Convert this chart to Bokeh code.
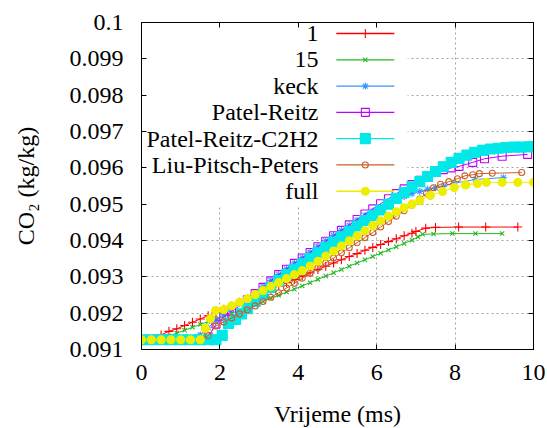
from bokeh.plotting import figure
from bokeh.models import LinearAxis, FixedTicker, Range1d, BoxAnnotation
from bokeh.core.properties import value
from bokeh.embed import file_html
from bokeh.resources import INLINE

# ---------------- data ----------------
x_ticks = [0, 2, 4, 6, 8, 10]
x_tick_labels = ["0", "2", "4", "6", "8", "10"]
y_ticks = [0.091, 0.092, 0.093, 0.094, 0.095, 0.096, 0.097, 0.098, 0.099, 0.1]
y_tick_labels = ["0.091", "0.092", "0.093", "0.094", "0.095", "0.096", "0.097", "0.098", "0.099", "0.1"]

series_names = ["1", "15", "keck", "Patel-Reitz", "Patel-Reitz-C2H2", "Liu-Pitsch-Peters", "full"]

t_1 = [0.0, 0.3, 0.5, 0.7, 0.9, 1.1, 1.3, 1.5, 1.7, 1.9, 2.1, 2.3, 2.5, 2.7, 2.9, 3.1, 3.3, 3.5, 3.7, 3.9,
       4.1, 4.3, 4.5, 4.7, 4.9, 5.1, 5.3, 5.5, 5.7, 5.9, 6.1, 6.3, 6.5, 6.7, 6.9, 7.0, 7.25, 7.5, 8.09, 8.78, 9.6]
co2_1 = [0.09127, 0.09130, 0.09140, 0.09150, 0.09157, 0.09166, 0.09175, 0.09184, 0.09193, 0.09202,
         0.09211, 0.09220, 0.09230, 0.09239, 0.09248, 0.09257, 0.09266, 0.09275, 0.09284, 0.09293,
         0.09302, 0.09311, 0.09320, 0.09329, 0.09338, 0.09347, 0.09356, 0.09364, 0.09373, 0.09381,
         0.09389, 0.09397, 0.09405, 0.09413, 0.09420, 0.09425, 0.09434, 0.09436, 0.09437, 0.09437, 0.09437]

t_15 = [0.0, 0.3, 0.5, 0.7, 0.9, 1.1, 1.3, 1.5, 1.7, 1.9, 2.1, 2.3, 2.5, 2.7, 2.9, 3.1, 3.3, 3.5, 3.7, 3.9,
        4.1, 4.3, 4.5, 4.7, 4.9, 5.1, 5.3, 5.5, 5.7, 5.9, 6.1, 6.3, 6.5, 6.7, 6.9, 7.05, 7.17, 7.45, 7.93, 8.52, 9.2]
co2_15 = [0.09127, 0.09127, 0.09130, 0.09137, 0.09145, 0.09153, 0.09161, 0.09169, 0.09177, 0.09185,
          0.09192, 0.09200, 0.09208, 0.09216, 0.09224, 0.09232, 0.09241, 0.09249, 0.09258, 0.09266,
          0.09275, 0.09284, 0.09293, 0.09302, 0.09311, 0.09320, 0.09329, 0.09338, 0.09347, 0.09356,
          0.09365, 0.09374, 0.09383, 0.09392, 0.09401, 0.09410, 0.09417, 0.09418, 0.09419, 0.09419, 0.09419]

t_keck = [0.0, 0.25, 0.5, 0.75, 1.0, 1.25, 1.5, 1.7, 1.9, 2.1, 2.3, 2.5, 2.7, 2.9, 3.1, 3.3, 3.5, 3.7, 3.9,
          4.1, 4.3, 4.5, 4.7, 4.9, 5.1, 5.3, 5.5, 5.7, 5.9, 6.1, 6.3, 6.5, 6.7, 6.9, 7.1, 7.3, 7.5, 7.7,
          7.96, 8.52, 9.23]
co2_keck = [0.09127, 0.09127, 0.09127, 0.09127, 0.09127, 0.09127, 0.09140, 0.09160, 0.09180, 0.09196,
            0.09211, 0.09226, 0.09241, 0.09257, 0.09273, 0.09290, 0.09306, 0.09322, 0.09338, 0.09353,
            0.09368, 0.09384, 0.09399, 0.09414, 0.09428, 0.09442, 0.09456, 0.09469, 0.09481, 0.09493,
            0.09504, 0.09513, 0.09521, 0.09529, 0.09535, 0.09541, 0.09545, 0.09549, 0.09557, 0.09568, 0.09573]

t_pr = [0.0, 0.25, 0.5, 0.75, 1.0, 1.25, 1.5, 1.7, 1.9, 2.1, 2.3, 2.5, 2.7, 2.9, 3.1, 3.3, 3.5, 3.7, 3.9,
        4.1, 4.3, 4.5, 4.7, 4.9, 5.1, 5.3, 5.5, 5.7, 5.9, 6.1, 6.3, 6.5, 6.7, 6.9, 7.1, 7.3, 7.5, 7.7, 7.9,
        8.1, 8.45, 8.75, 9.2, 9.85]
co2_pr = [0.09127, 0.09127, 0.09127, 0.09127, 0.09127, 0.09127, 0.09127, 0.09135, 0.09170, 0.09190,
          0.09205, 0.09220, 0.09237, 0.09254, 0.09271, 0.09289, 0.09306, 0.09321, 0.09337, 0.09352,
          0.09367, 0.09383, 0.09398, 0.09413, 0.09428, 0.09443, 0.09458, 0.09473, 0.09487, 0.09501,
          0.09515, 0.09529, 0.09542, 0.09554, 0.09566, 0.09577, 0.09587, 0.09595, 0.09600,
          0.09604, 0.09615, 0.09625, 0.09632, 0.09637]

t_prc = [0.0, 0.25, 0.5, 0.75, 1.0, 1.25, 1.5, 1.7, 1.9, 2.06, 2.22, 2.4, 2.55, 2.7, 2.9, 3.1, 3.3, 3.5,
         3.7, 3.9, 4.1, 4.3, 4.5, 4.7, 4.9, 5.1, 5.3, 5.5, 5.7, 5.9, 6.1, 6.3, 6.5, 6.7, 6.9, 7.1, 7.3,
         7.5, 7.7, 7.9, 8.1, 8.3, 8.5, 8.7, 8.9, 9.1, 9.3, 9.5, 9.7, 9.9, 10.0]
co2_prc = [0.09127, 0.09127, 0.09127, 0.09127, 0.09127, 0.09127, 0.09127, 0.09127, 0.09127, 0.09139,
           0.09172, 0.09183, 0.09198, 0.09212, 0.09232, 0.09252, 0.09271, 0.09290, 0.09306, 0.09321,
           0.09336, 0.09351, 0.09366, 0.09381, 0.09396, 0.09410, 0.09425, 0.09440, 0.09455, 0.09469,
           0.09484, 0.09500, 0.09516, 0.09532, 0.09548, 0.09562, 0.09576, 0.09590, 0.09603, 0.09615,
           0.09626, 0.09635, 0.09643, 0.09648, 0.09652, 0.09654, 0.09656, 0.09657, 0.09657, 0.09658, 0.09658]

t_lpp = [0.0, 0.25, 0.5, 0.75, 1.0, 1.25, 1.5, 1.7, 1.9, 2.1, 2.3, 2.5, 2.7, 2.9, 3.1, 3.3, 3.5, 3.7, 3.9,
         4.1, 4.3, 4.5, 4.7, 4.9, 5.1, 5.3, 5.5, 5.7, 5.9, 6.1, 6.3, 6.5, 6.7, 6.9, 7.1, 7.27, 7.45, 7.63,
         7.84, 8.06, 8.25, 8.45, 8.62, 8.95, 9.7]
co2_lpp = [0.09127, 0.09127, 0.09127, 0.09127, 0.09127, 0.09127, 0.09127, 0.09138, 0.09165, 0.09176,
           0.09187, 0.09198, 0.09209, 0.09220, 0.09232, 0.09244, 0.09256, 0.09269, 0.09282, 0.09296,
           0.09310, 0.09324, 0.09338, 0.09352, 0.09366, 0.09380, 0.09394, 0.09408, 0.09422, 0.09437,
           0.09452, 0.09467, 0.09482, 0.09497, 0.09514, 0.09530, 0.09545, 0.09555, 0.09562, 0.09570,
           0.09578, 0.09581, 0.09584, 0.09585, 0.09587]

t_full = [0.0, 0.25, 0.5, 0.75, 1.0, 1.25, 1.5, 1.63, 1.76, 1.89, 2.1, 2.3, 2.5, 2.7, 2.9, 3.1, 3.3, 3.5,
          3.7, 3.9, 4.1, 4.3, 4.5, 4.7, 4.9, 5.1, 5.3, 5.5, 5.7, 5.9, 6.1, 6.3, 6.5, 6.7, 6.9, 7.1, 7.37,
          7.68, 7.98, 8.27, 8.57, 8.8, 9.2, 9.6, 10.0]
co2_full = [0.09127, 0.09127, 0.09127, 0.09127, 0.09127, 0.09127, 0.09127, 0.09158, 0.09185, 0.09207,
            0.09210, 0.09220, 0.09230, 0.09240, 0.09251, 0.09262, 0.09273, 0.09284, 0.09295, 0.09306,
            0.09317, 0.09330, 0.09343, 0.09357, 0.09371, 0.09385, 0.09399, 0.09413, 0.09427, 0.09441,
            0.09454, 0.09467, 0.09479, 0.09490, 0.09500, 0.09510, 0.09524, 0.09535, 0.09546, 0.09553,
            0.09557, 0.09560, 0.09560, 0.09560, 0.09560]

series_t = [t_1, t_15, t_keck, t_pr, t_prc, t_lpp, t_full]
series_v = [co2_1, co2_15, co2_keck, co2_pr, co2_prc, co2_lpp, co2_full]

# ---------------- styles ----------------
FONT = "Liberation Serif"
colors = ["#ff0000", "#22bb22", "#3399ff", "#bf00ff", "#00e8e8", "#c8602a", "#eeee00"]
markers = ["cross", "x", "asterisk", "square", "square", "circle", "circle"]
msizes = [9, 6, 7, 8, 10, 6, 8]
filled = [False, False, False, False, True, False, True]

X0, X1 = 0, 10
Y0, Y1 = 0.091, 0.1

p = figure(frame_width=392, frame_height=327,
           x_range=Range1d(X0, X1), y_range=Range1d(Y0, Y1),
           output_backend="svg", toolbar_location=None,
           min_border_left=141, min_border_right=14, min_border_top=22, min_border_bottom=78,
           x_axis_label="Vrijeme (ms)", y_axis_label="CO\u2082 (kg/kg)")
p.outline_line_color = "black"
p.background_fill_color = "white"
p.border_fill_color = "white"

p.xaxis.ticker = FixedTicker(ticks=x_ticks)
p.yaxis.ticker = FixedTicker(ticks=y_ticks)
p.xaxis.major_label_overrides = {t: s for t, s in zip(x_ticks, x_tick_labels)}
p.yaxis.major_label_overrides = {t: s for t, s in zip(y_ticks, y_tick_labels)}
p.xaxis.major_label_text_font = FONT
p.yaxis.major_label_text_font = FONT
p.xaxis.axis_label_text_font = FONT
p.yaxis.axis_label_text_font = FONT
for ax in [p.xaxis[0], p.yaxis[0]]:
    ax.major_label_text_font_size = "24px"
    ax.major_label_text_color = "black"
    ax.axis_label_text_font_size = "24px"
    ax.axis_label_text_font_style = "normal"
    ax.axis_label_text_color = "black"
    ax.major_tick_in = 5
    ax.major_tick_out = 0
    ax.minor_tick_line_color = None
    ax.axis_line_color = "black"
    ax.major_tick_line_color = "black"
p.xaxis.major_label_standoff = 15
p.xaxis.axis_label_standoff = 18
p.yaxis.major_label_standoff = 18
p.yaxis.axis_label_standoff = 28

for loc, ticks in (("above", x_ticks), ("right", y_ticks)):
    mirror = LinearAxis(ticker=FixedTicker(ticks=ticks), major_label_text_color=None,
                        major_label_text_font_size="1px", major_tick_in=5, major_tick_out=0,
                        minor_tick_line_color=None, major_label_standoff=0,
                        axis_line_color="black", major_tick_line_color="black")
    p.add_layout(mirror, loc)

for g in [p.xgrid[0], p.ygrid[0]]:
    g.grid_line_color = "#a0a0a0"
    g.grid_line_dash = "2 3"
    g.grid_line_width = 1
    g.level = "image"
p.xgrid.ticker = FixedTicker(ticks=x_ticks)
p.ygrid.ticker = FixedTicker(ticks=y_ticks)


def fx(f):
    return X0 + f * (X1 - X0)


def fy(f):  # fraction measured from the top of the frame
    return Y1 - f * (Y1 - Y0)


# opaque key area (hides the grid like gnuplot's opaque key)
key_box = BoxAnnotation(left=fx(0.0), right=fx(0.679), top=fy(0.0), bottom=fy(0.56),
                        fill_color="white", fill_alpha=1.0, line_color=None, level="underlay")
p.add_layout(key_box)

# data
for t, v, c, m, s, f in zip(series_t, series_v, colors, markers, msizes, filled):
    p.line(t, v, line_color=c, line_width=1)
    p.scatter(t, v, marker=m, size=s, line_color=c, line_width=1.1,
              fill_color=c if f else None)

# key (text right-aligned, sample to the right)
ROW0, STEP = 0.0336, 0.0804
TXT_R, LN_A, LN_B, MK = 0.4515, 0.497, 0.645, 0.571
for i, (name, c, m, s, f) in enumerate(zip(series_names, colors, markers, msizes, filled)):
    yy = fy(ROW0 + i * STEP)
    p.text(x=[fx(TXT_R)], y=[yy], text=[name], text_align="right", text_baseline="middle",
           text_font=value(FONT), text_font_size="24px", text_color="black")
    p.line([fx(LN_A), fx(LN_B)], [yy, yy], line_color=c, line_width=1.3)
    p.scatter([fx(MK)], [yy], marker=m, size=s, line_color=c, line_width=1.1,
              fill_color=c if f else None)

open("out.html", "w").write(file_html(p, INLINE))
